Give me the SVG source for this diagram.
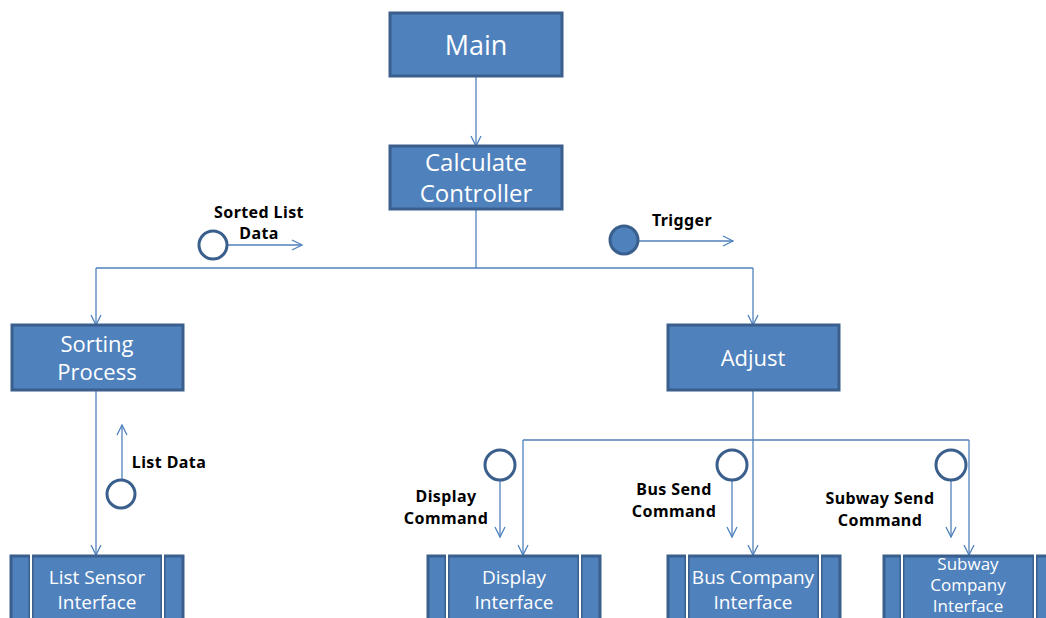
<svg xmlns="http://www.w3.org/2000/svg" width="1046" height="618" viewBox="0 0 1046 618">
<defs>
<marker id="arr" markerUnits="userSpaceOnUse" markerWidth="14" markerHeight="14" refX="11" refY="6" orient="auto">
<path d="M1,1 L11,6 L1,11" fill="none" stroke="#4f81bd" stroke-width="1.3"/>
</marker>
</defs>
<style>
.box{fill:#4f81bd;stroke:#3a5f8c;stroke-width:3}
.t{font-family:"Open Sans","Noto Sans",sans-serif;fill:#fff;text-anchor:middle}
.lbl{font-family:"Noto Sans","DejaVu Sans",sans-serif;font-weight:bold;font-size:16px;letter-spacing:0.4px;fill:#000;text-anchor:middle}
.c{fill:none;stroke:#4f81bd;stroke-width:1.3}
.ca{fill:none;stroke:#4f81bd;stroke-width:1.3;marker-end:url(#arr)}
.circ{fill:#fff;stroke:#3a5f8c;stroke-width:3}
.sep{stroke:#fff;stroke-width:2}
.sepd{stroke:#3a5f8c;stroke-width:5}
</style>
<rect width="1046" height="618" fill="#fff"/>
<g id="connectors">
<path class="ca" d="M476,76 V146"/>
<path class="c" d="M476,209 V268"/>
<path class="c" d="M96,268 H753"/>
<path class="ca" d="M96,268 V325"/>
<path class="ca" d="M753,268 V325"/>
<path class="ca" d="M96,390 V555"/>
<path class="ca" d="M753,390 V555"/>
<path class="c" d="M523,440 H969"/>
<path class="ca" d="M523,440 V555"/>
<path class="ca" d="M969,440 V555"/>
</g>
<g id="main"><rect class="box" x="390" y="13" width="172" height="63"/><text class="t" x="476" y="55" font-size="27">Main</text></g>
<g id="calculate-controller"><rect class="box" x="390" y="146" width="172" height="63"/><text class="t" x="476" y="171" font-size="24">Calculate</text><text class="t" x="476" y="202" font-size="24">Controller</text></g>
<g id="sorting-process"><rect class="box" x="12" y="325" width="171" height="65"/><text class="t" x="97" y="352" font-size="22">Sorting</text><text class="t" x="97" y="380" font-size="22">Process</text></g>
<g id="adjust"><rect class="box" x="668" y="325" width="171" height="65"/><text class="t" x="753" y="366" font-size="22">Adjust</text></g>
<g id="sorted-list-data"><path class="ca" d="M227,245 H302"/><circle class="circ" cx="213" cy="245" r="14"/><text class="lbl" x="259" y="218">Sorted List</text><text class="lbl" x="259" y="239">Data</text></g>
<g id="trigger"><path class="ca" d="M638,241 H733"/><circle cx="624" cy="240" r="14" fill="#4f81bd" stroke="#3a5f8c" stroke-width="3"/><text class="lbl" x="682" y="226">Trigger</text></g>
<g id="list-data"><path class="ca" d="M122,480 V425"/><circle class="circ" cx="121" cy="494" r="14"/><text class="lbl" x="169" y="468">List Data</text></g>
<g id="display-command"><path class="ca" d="M500,480 V537"/><circle class="circ" cx="500" cy="465" r="15"/><text class="lbl" x="446" y="502">Display</text><text class="lbl" x="446" y="524">Command</text></g>
<g id="bus-send-command"><path class="ca" d="M732,480 V537"/><circle class="circ" cx="732" cy="465" r="15"/><text class="lbl" x="674" y="495">Bus Send</text><text class="lbl" x="674" y="517">Command</text></g>
<g id="subway-send-command"><path class="ca" d="M951,480 V537"/><circle class="circ" cx="951" cy="465" r="15"/><text class="lbl" x="880" y="504">Subway Send</text><text class="lbl" x="880" y="526">Command</text></g>
<g id="list-sensor-interface"><rect class="box" x="11" y="556" width="172" height="80"/><path class="sepd" d="M31,556 V618 M163,556 V618"/><path class="sep" d="M31,554 V618 M163,554 V618"/><text class="t" x="97" y="584" font-size="19">List Sensor</text><text class="t" x="97" y="609" font-size="19">Interface</text></g>
<g id="display-interface"><rect class="box" x="428" y="556" width="172" height="80"/><path class="sepd" d="M447,556 V618 M580,556 V618"/><path class="sep" d="M447,554 V618 M580,554 V618"/><text class="t" x="514" y="584" font-size="19">Display</text><text class="t" x="514" y="609" font-size="19">Interface</text></g>
<g id="bus-company-interface"><rect class="box" x="668" y="556" width="172" height="80"/><path class="sepd" d="M687,556 V618 M820,556 V618"/><path class="sep" d="M687,554 V618 M820,554 V618"/><text class="t" x="753" y="584" font-size="19">Bus Company</text><text class="t" x="753" y="609" font-size="19">Interface</text></g>
<g id="subway-company-interface"><rect class="box" x="884" y="556" width="172" height="80"/><path class="sepd" d="M902,556 V618 M1035,556 V618"/><path class="sep" d="M902,554 V618 M1035,554 V618"/><text class="t" x="968" y="570" font-size="17">Subway</text><text class="t" x="968" y="591" font-size="17">Company</text><text class="t" x="968" y="612" font-size="17">Interface</text></g>
</svg>
